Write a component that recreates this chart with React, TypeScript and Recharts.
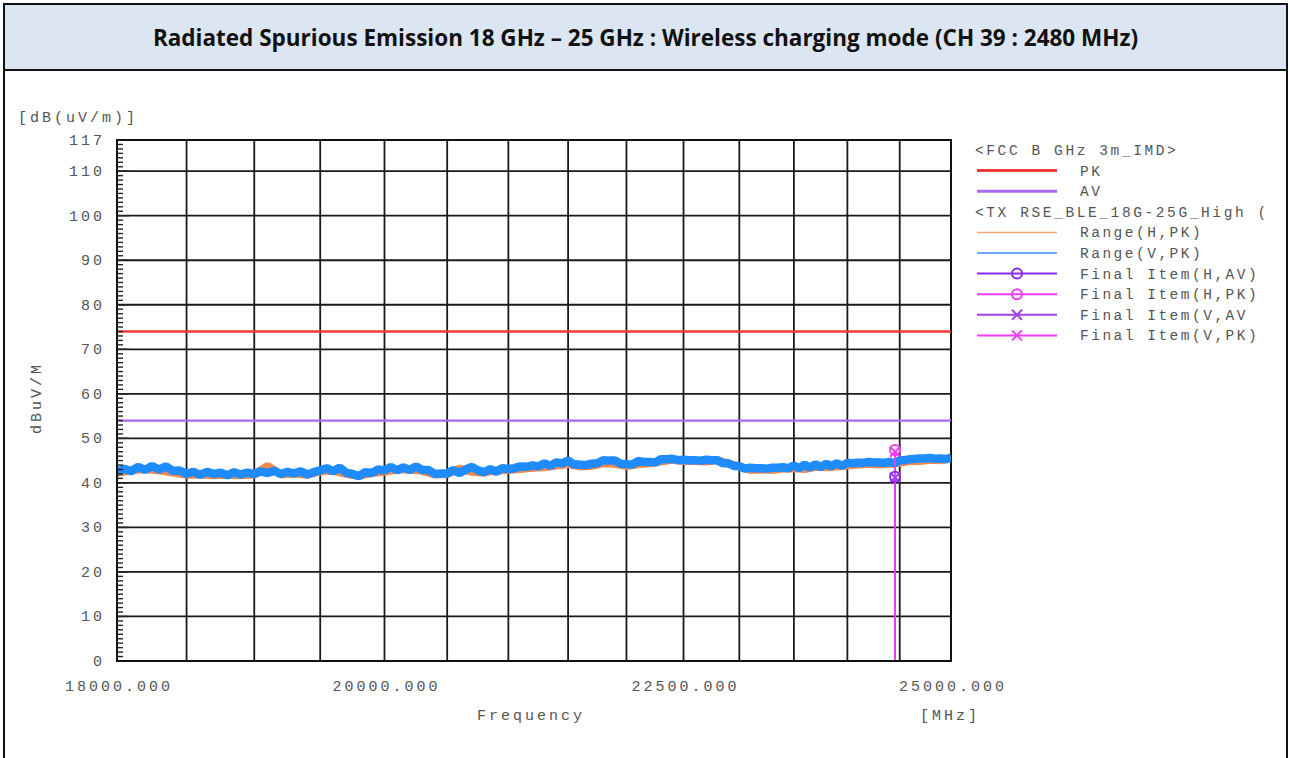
import { ComposedChart, Line, XAxis, YAxis, ReferenceLine, ReferenceArea } from 'recharts';

// sweep sample grids (MHz)
const V_START = 18000;
const V_STEP = 50;
const H_START = 18000;
const H_STEP = 100;

// Range(V,PK) trace, dBuV/m, every 50 MHz from 18000 to 25000
const rangeV = [
  42.4, 43.2, 42.6, 43.6, 42.9, 43.8, 43.0, 43.7, 42.7, 42.8,
  42.0, 42.5, 41.8, 42.5, 42.0, 42.3, 41.7, 42.4, 41.9, 42.3,
  42.0, 42.6, 42.2, 42.7, 42.0, 42.5, 42.1, 42.6, 41.9, 42.4,
  42.8, 43.3, 42.6, 43.4, 42.3, 42.0, 41.5, 42.4, 42.2, 43.0,
  42.8, 43.6, 42.8, 43.5, 42.9, 43.7, 42.9, 42.9, 42.0, 42.1,
  42.1, 42.9, 42.2, 43.0, 43.6, 42.8, 42.4, 43.1, 42.5, 43.3,
  43.1, 43.3, 43.7, 43.6, 43.9, 43.7, 44.4, 43.8, 44.6, 44.4,
  45.0, 44.1, 44.1, 44.0, 44.3, 44.4, 45.1, 45.0, 45.0, 44.3,
  44.2, 44.1, 44.9, 44.7, 44.7, 44.6, 45.3, 45.3, 45.4, 45.1,
  45.2, 45.1, 45.1, 45.0, 45.2, 45.1, 45.1, 44.4, 44.4, 43.8,
  43.8, 43.2, 43.4, 43.3, 43.3, 43.2, 43.4, 43.4, 43.5, 43.3,
  43.9, 43.3, 44.1, 43.4, 44.2, 43.5, 44.3, 43.7, 44.4, 43.8,
  44.5, 44.4, 44.5, 44.5, 44.7, 44.6, 44.6, 44.5, 44.7, 44.4,
  45.1, 45.1, 45.3, 45.4, 45.5, 45.5, 45.6, 45.4, 45.5, 45.3,
  45.7,
];

// Range(H,PK) trace, every 100 MHz
const rangeH = [
  42.2, 42.8, 43.1, 42.8, 42.3, 41.8, 41.9, 41.7, 41.8, 41.7,
  41.9, 43.8, 41.9, 42.1, 41.8, 42.6, 42.7, 42.0, 41.6, 42.2,
  42.5, 43.0, 43.0, 42.7, 41.9, 42.0, 43.2, 42.5, 42.3, 42.8,
  42.9, 43.1, 43.4, 43.5, 43.9, 44.2, 43.7, 43.8, 44.4, 44.3,
  43.8, 44.2, 44.4, 44.8, 45.2, 44.9, 44.9, 44.8, 45.1, 44.3,
  43.7, 42.9, 43.0, 42.9, 43.2, 43.3, 43.1, 43.6, 43.5, 43.7,
  43.9, 44.1, 44.3, 44.1, 44.3, 44.5, 44.9, 44.9, 45.2, 45.1,
  45.5,
];

// final items
const finalFreq = 24455;
const finalHPK = 47.4;
const finalVPK = 47.0;
const finalHAV = 41.4;
const finalVAV = 41.2;

// limits
const limitPK = 74;
const limitAV = 54;

const xGrid = [18500, 19000, 19500, 20000, 20500, 21000, 21500, 22000, 22500, 23000, 23500, 24000, 24500];
const xTicks = [18000, 18500, 19000, 19500, 20000, 20500, 21000, 21500, 22000, 22500, 23000, 23500, 24000, 24500, 25000];
const xLabels = [18000, 20000, 22500, 25000];
const yGrid = [10, 20, 30, 40, 50, 60, 70, 80, 90, 100, 110];
const yLabels = [0, 10, 20, 30, 40, 50, 60, 70, 80, 90, 100, 110, 117];
const yMinor = Array.from({ length: 118 }, (_, i) => i);

const vData = rangeV.map((v, i) => ({ f: V_START + i * V_STEP, v }));
const hData = rangeH.map((v, i) => ({ f: H_START + i * H_STEP, v }));

const RED = '#f23a3a';
const LAV = '#a66af2';
const ORANGE = '#f5894e';
const BLUE = '#1e8bff';
const MAGENTA = '#f03cf2';
const PURPLE = '#8a2cf0';
const TXT = '#555555';
const MONO = '"Liberation Mono", "DejaVu Sans Mono", monospace';

const Circle = ({ cx, cy, color }: { cx: number; cy: number; color: string }) => (
  <circle cx={cx} cy={cy} r={5} fill="none" stroke={color} strokeWidth={2} />
);
const Cross = ({ cx, cy, color }: { cx: number; cy: number; color: string }) => (
  <g stroke={color} strokeWidth={2}>
    <line x1={cx - 5} y1={cy - 5} x2={cx + 5} y2={cy + 5} />
    <line x1={cx - 5} y1={cy + 5} x2={cx + 5} y2={cy - 5} />
  </g>
);

const finalDot = (kind: 'o' | 'x', color: string) => (props: any) => {
  const { cx, cy, payload, index } = props;
  if (!payload.mark) return <g key={index} />;
  return (
    <g key={index}>
      {kind === 'o' ? <Circle cx={cx} cy={cy} color={color} /> : <Cross cx={cx} cy={cy} color={color} />}
    </g>
  );
};

const YTick = (props: any) => {
  const { x, y, payload } = props;
  const v = payload.value;
  const major = v % 10 === 0 && v !== 0;
  const ax = x + 12;
  return (
    <g>
      {v !== 0 && v !== 117 && (
        <line x1={ax} x2={ax + (major ? 12 : 6)} y1={y} y2={y} stroke="#222" strokeWidth={1.4} />
      )}
      {yLabels.includes(v) && (
        <text x={x} y={y} dy={5} textAnchor="end" fill={TXT} fontFamily={MONO} fontSize={15} letterSpacing={3}>
          {v}
        </text>
      )}
    </g>
  );
};

const XTick = (props: any) => {
  const { x, y, payload } = props;
  const v = payload.value;
  if (!xLabels.includes(v)) return <g />;
  return (
    <text x={x + 2} y={y} dy={12} textAnchor="middle" fill={TXT} fontFamily={MONO} fontSize={15} letterSpacing={3}>
      {v.toFixed(3)}
    </text>
  );
};

const legendRows: { label: string; color?: string; kind?: 'line' | 'o' | 'x'; head?: boolean; w?: number }[] = [
  { label: '<FCC B GHz 3m_IMD>', head: true },
  { label: 'PK', color: RED, kind: 'line', w: 3 },
  { label: 'AV', color: LAV, kind: 'line', w: 3 },
  { label: '<TX RSE_BLE_18G-25G_High (', head: true },
  { label: 'Range(H,PK)', color: '#f7a47a', kind: 'line', w: 1.5 },
  { label: 'Range(V,PK)', color: '#3b93ff', kind: 'line', w: 1.5 },
  { label: 'Final Item(H,AV)', color: PURPLE, kind: 'o', w: 2 },
  { label: 'Final Item(H,PK)', color: MAGENTA, kind: 'o', w: 2 },
  { label: 'Final Item(V,AV', color: '#a040f0', kind: 'x', w: 2 },
  { label: 'Final Item(V,PK)', color: MAGENTA, kind: 'x', w: 2 },
];

function ChartLegend() {
  return (
    <svg width={313} height={220} style={{ position: 'absolute', left: 970, top: 138 }}>
      {legendRows.map((r, i) => {
        const y = 12 + i * 20.6;
        if (r.head) {
          return (
            <text key={i} x={5} y={y + 5} fill={TXT} fontFamily={MONO} fontSize={14.5} letterSpacing={2.6}>
              {r.label}
            </text>
          );
        }
        return (
          <g key={i}>
            <line x1={7} x2={87} y1={y} y2={y} stroke={r.color} strokeWidth={r.w} />
            {r.kind === 'o' && <Circle cx={47} cy={y} color={r.color!} />}
            {r.kind === 'x' && <Cross cx={47} cy={y} color={r.color!} />}
            <text x={110} y={y + 5} fill={TXT} fontFamily={MONO} fontSize={14.5} letterSpacing={2.5}>
              {r.label}
            </text>
          </g>
        );
      })}
    </svg>
  );
}

export default function App() {
  return (
    <div style={{ position: 'absolute', left: 0, top: 0, width: 1290, height: 758, overflow: 'hidden', background: '#fff' }}>
      <div
        style={{
          position: 'absolute', left: 3, top: 3, width: 1285, height: 68, boxSizing: 'border-box',
          border: '2px solid #111', background: '#dce6f2', display: 'flex', alignItems: 'center',
          justifyContent: 'center', fontFamily: '"Open Sans", Lato, sans-serif', fontWeight: 700, fontSize: 22.5, color: '#111',
        }}
      >
        Radiated Spurious Emission 18 GHz – 25 GHz : Wireless charging mode (CH 39 : 2480 MHz)
      </div>
      <div
        style={{
          position: 'absolute', left: 3, top: 69, width: 1285, height: 700, boxSizing: 'border-box',
          borderLeft: '2px solid #111', borderRight: '2px solid #111',
        }}
      />
      <div style={{ position: 'absolute', left: 0, top: 0 }}>
        <ComposedChart width={1290} height={758} margin={{ top: 140, right: 339, bottom: 57, left: 57 }}>
          <XAxis
            dataKey="f"
            type="number"
            scale="log"
            domain={[18000, 25000]}
            allowDataOverflow
            ticks={xTicks}
            interval={0}
            tickLine={false}
            tickSize={0}
            tickMargin={18}
            tick={<XTick />}
            axisLine={{ stroke: '#111', strokeWidth: 2 }}
            height={40}
          />
          <YAxis
            type="number"
            domain={[0, 117]}
            allowDataOverflow
            ticks={yMinor}
            interval={0}
            tickLine={false}
            tickSize={0}
            tickMargin={12}
            tick={<YTick />}
            axisLine={{ stroke: '#111', strokeWidth: 2 }}
            width={60}
          />
          {yGrid.map((v) => (
            <ReferenceLine key={`y${v}`} y={v} stroke="#1a1a1a" strokeWidth={1.8} />
          ))}
          {xGrid.map((f) => (
            <ReferenceLine key={`x${f}`} x={f} stroke="#1a1a1a" strokeWidth={1.8} />
          ))}
          <ReferenceArea x1={18000} x2={25000} y1={0} y2={117} fill="none" stroke="#111" strokeWidth={2} />
          <ReferenceLine y={limitPK} stroke={RED} strokeWidth={2.5} />
          <ReferenceLine y={limitAV} stroke={LAV} strokeWidth={2.2} />
          <Line data={hData} dataKey="v" stroke={ORANGE} strokeWidth={8} strokeLinejoin="bevel" dot={false} isAnimationActive={false} />
          <Line data={vData} dataKey="v" stroke={BLUE} strokeWidth={8.5} strokeLinejoin="bevel" dot={false} isAnimationActive={false} />
          <Line
            data={[{ f: finalFreq, v: finalVAV, mark: true }, { f: finalFreq, v: 0 }]}
            dataKey="v" stroke="#a040f0" strokeWidth={1.5} dot={finalDot('x', '#a040f0')} isAnimationActive={false}
          />
          <Line
            data={[{ f: finalFreq, v: finalHAV, mark: true }, { f: finalFreq, v: 0 }]}
            dataKey="v" stroke={PURPLE} strokeWidth={1.5} dot={finalDot('o', PURPLE)} isAnimationActive={false}
          />
          <Line
            data={[{ f: finalFreq, v: finalVPK, mark: true }, { f: finalFreq, v: 0 }]}
            dataKey="v" stroke={MAGENTA} strokeWidth={1.5} dot={finalDot('x', MAGENTA)} isAnimationActive={false}
          />
          <Line
            data={[{ f: finalFreq, v: finalHPK, mark: true }, { f: finalFreq, v: 0 }]}
            dataKey="v" stroke={MAGENTA} strokeWidth={1.5} dot={finalDot('o', MAGENTA)} isAnimationActive={false}
          />
        </ComposedChart>
      </div>
      <ChartLegend />
      <div style={{ position: 'absolute', left: 18, top: 110, fontFamily: MONO, fontSize: 15, letterSpacing: 3, color: TXT }}>
        [dB(uV/m)]
      </div>
      <div
        style={{
          position: 'absolute', left: 37, top: 398, transform: 'translate(-50%, -50%) rotate(-90deg)',
          fontFamily: MONO, fontSize: 15, letterSpacing: 3, color: TXT, whiteSpace: 'nowrap',
        }}
      >
        dBuV/M
      </div>
      <div style={{ position: 'absolute', left: 477, top: 708, fontFamily: MONO, fontSize: 15, letterSpacing: 3, color: TXT }}>
        Frequency
      </div>
      <div style={{ position: 'absolute', left: 920, top: 708, fontFamily: MONO, fontSize: 15, letterSpacing: 3, color: TXT }}>
        [MHz]
      </div>
    </div>
  );
}
